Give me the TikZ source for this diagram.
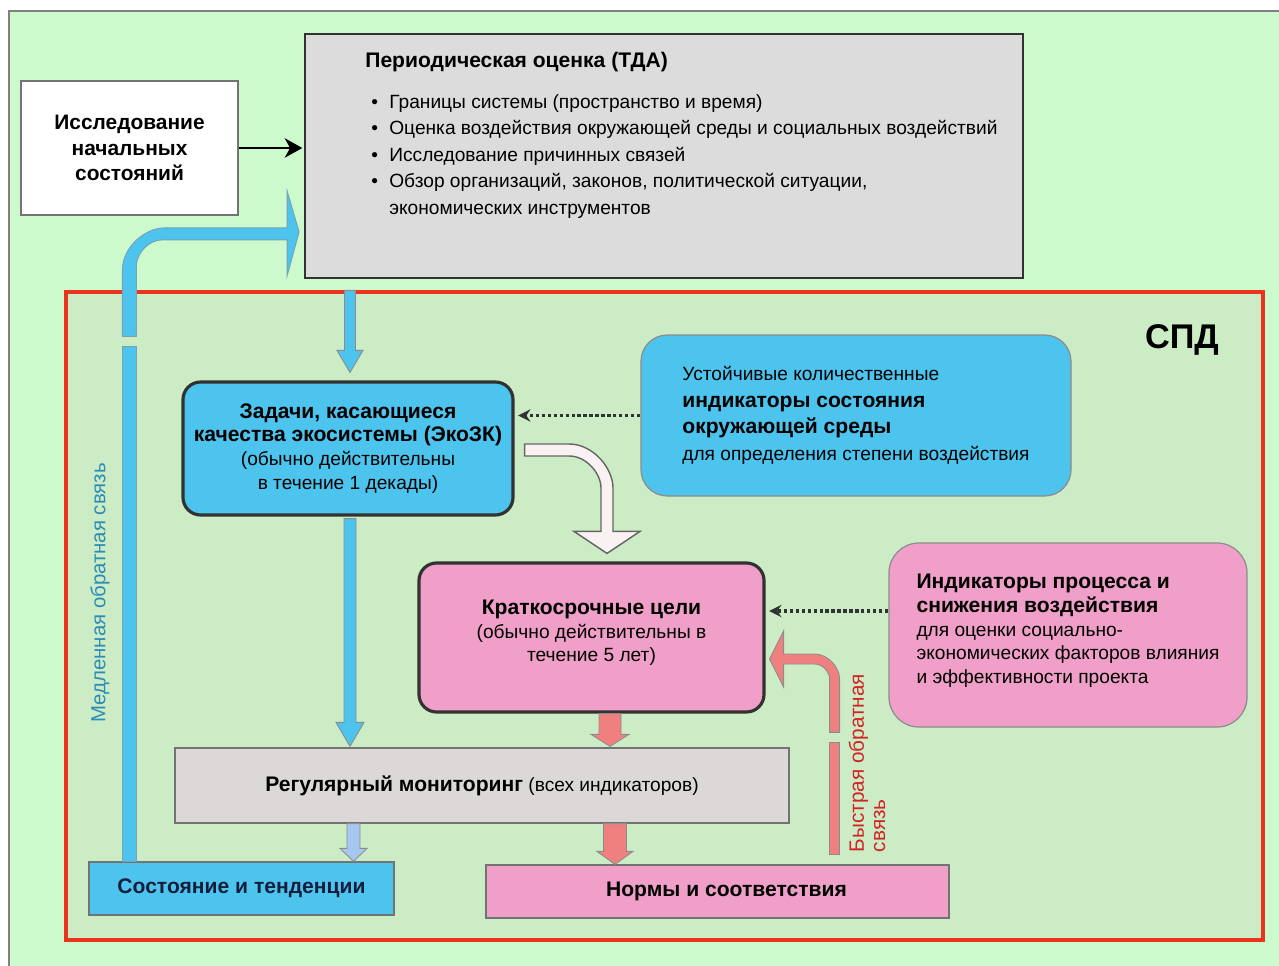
\documentclass[tikz,border=0pt]{standalone}
\usepackage{fontspec}
\setmainfont{Liberation Sans}
\usepackage{tikz}
\usetikzlibrary{arrows.meta,calc,positioning}

\newlength\pxu
\setlength\pxu{0.02cm}
\definecolor{outergreen}{RGB}{204,250,204}
\definecolor{innergreen}{RGB}{204,236,198}
\definecolor{frameorange}{RGB}{234,52,30}
\definecolor{ecoblue}{RGB}{76,196,238}
\definecolor{pinkbox}{RGB}{240,160,200}
\definecolor{fbsalmon}{RGB}{240,128,128}
\definecolor{tdagray}{RGB}{220,220,220}
\definecolor{mongray}{RGB}{220,216,216}
\definecolor{paleblue}{RGB}{166,200,240}
\definecolor{whitearrow}{RGB}{250,242,242}
\definecolor{slowblue}{RGB}{44,140,184}
\definecolor{fastred}{RGB}{210,36,36}
\definecolor{darkline}{RGB}{50,50,50}
\definecolor{navytext}{RGB}{20,30,60}

\newcommand{\fs}[2]{\fontsize{#1}{#2}\selectfont}
\newcommand{\bh}[1]{{\fontsize{12}{13}\selectfont\bfseries #1}}
\newcommand{\bul}{\makebox[18\pxu][l]{\textbullet}}
% straight block arrow pointing down: style, top, tip, shaft half, head half, head length
\newcommand{\vblock}[6]{\draw[blockarrow,#1] ($(#2)+(-#4,0)$) -- ($(#3)+(-#4,-#6)$) -- ($(#3)+(-#5,-#6)$) -- (#3) -- ($(#3)+(#5,-#6)$) -- ($(#3)+(#4,-#6)$) -- ($(#2)+(#4,0)$) -- cycle;}

\begin{document}
\begin{tikzpicture}[x=0.02cm, y=-0.02cm,
    box/.style={draw=black!55, line width=0.7pt, inner sep=0pt, align=center},
    goalbox/.style={box, draw=darkline, line width=1.8pt, rounded corners=10pt},
    indbox/.style={box, draw=black!45, rounded corners=15pt, align=left},
    blockarrow/.style={draw=black!45, line width=0.5pt},
    dotarrow/.style={darkline, line width=1.8pt, dash pattern=on 1.8pt off 1.6pt, -{Stealth[length=7pt,width=7pt]}, shorten >=2pt}]
\useasboundingbox (0,0) rectangle (1279,966);

% background and SPD frame
\draw[fill=outergreen, draw=black!50, line width=1pt] (9,11) rectangle (1300,990);
\node[draw=frameorange, line width=1.8pt, fill=innergreen, minimum width=1197\pxu, minimum height=648\pxu, inner sep=0pt] (spd) at (664.5,616) {};
\node[font=\fs{19.5}{22}\bfseries] (spdlabel) at (1182,340) {СПД};

% top row
\node[box, fill=white, minimum width=217\pxu, minimum height=134\pxu, font=\fs{11.9}{14.5}\bfseries] (start) at (129.5,148) {Исследование\\начальных\\состояний};
\node[box, draw=darkline, line width=1pt, fill=tdagray, minimum width=718\pxu, minimum height=244\pxu] (tda) at (664,156) {};
\node[anchor=west, inner sep=0pt, font=\fs{12}{14}\bfseries] (tdatitle) at (365,62) {Периодическая оценка (ТДА)};
\node[anchor=north west, align=left, inner sep=0pt, font=\fs{10.9}{15.1}] (tdalist) at (371,94) {%
  \bul Границы системы (пространство и время)\\
  \bul Оценка воздействия окружающей среды и социальных воздействий\\
  \bul Исследование причинных связей\\
  \bul Обзор организаций, законов, политической ситуации,\\
  \hspace*{18\pxu}экономических инструментов};
\draw[line width=1.6pt, -{Stealth[length=10pt,width=11pt,inset=3pt]}, shorten >=1pt] (start.east) -- (start.east -| tda.west);

% goals and indicators
\node[goalbox, fill=ecoblue, minimum width=330\pxu, minimum height=133\pxu, font=\fs{10.9}{13.6}] (eco) at (348,448.5) {\bh{Задачи, касающиеся}\\\bh{качества экосистемы (ЭкоЗК)}\\(обычно действительны\\в течение 1 декады)};
\node[indbox, fill=ecoblue, minimum width=430\pxu, minimum height=161\pxu, font=\fs{10.9}{15.1}] (ind1) at (856,415.5) {Устойчивые количественные\\\bh{индикаторы состояния}\\\bh{окружающей среды}\\для определения степени воздействия};
\node[goalbox, fill=pinkbox, minimum width=345\pxu, minimum height=149\pxu, font=\fs{10.9}{13.3}] (stg) at (591.5,637.5) {\bh{Краткосрочные цели}\\(обычно действительны в\\течение 5 лет)\\[-5.9pt]\mbox{}};
\node[indbox, rounded corners=17pt, fill=pinkbox, minimum width=358\pxu, minimum height=184\pxu, font=\fs{10.9}{13.5}] (ind2) at (1068,635) {\bh{Индикаторы процесса и}\\\bh{снижения воздействия}\\для оценки социально-\\экономических факторов влияния\\и эффективности проекта\\[-6.7pt]\mbox{}};

% monitoring and results
\node[box, fill=mongray, minimum width=614\pxu, minimum height=75\pxu, font=\fs{10.9}{12}] (mon) at (482,785.5) {\bh{Регулярный мониторинг} (всех индикаторов)};
\node[box, fill=ecoblue, minimum width=305\pxu, minimum height=53\pxu, text=navytext, font=\fs{12}{13}\bfseries] (state) at (241.5,888.5) {Состояние и тенденции};
\node[box, fill=pinkbox, minimum width=463\pxu, minimum height=53\pxu, font=\fs{12}{13}\bfseries] (norms) at (717.5,891.5) {\hspace*{18\pxu}Нормы и соответствия};

% dotted links
\draw[dotarrow] (ind1.west) -- (ind1.west -| eco.east);
\coordinate (d2) at ($(ind2.west)+(0,-24)$);
\draw[dotarrow] (d2) -- (d2 -| stg.east);

% straight block arrows
\coordinate (colA) at (350,0);
\coordinate (colB) at (610,0);
\coordinate (colC) at (615,0);
\coordinate (colD) at (353.5,0);
\coordinate (a1top) at (spd.north -| colA);
\coordinate (a1tip) at ($(eco.north -| colA)+(0,-8)$);
\coordinate (a2top) at ($(eco.south -| colA)+(0,2)$);
\coordinate (a2tip) at ($(mon.north -| colA)+(0,-1)$);
\coordinate (a3top) at (stg.south -| colB);
\coordinate (a3tip) at ($(mon.north -| colB)+(0,-1)$);
\coordinate (a4top) at (mon.south -| colC);
\coordinate (a4tip) at (norms.north -| colC);
\coordinate (a5top) at (mon.south -| colD);
\coordinate (a5tip) at (state.north -| colD);
\vblock{fill=ecoblue}{a1top}{a1tip}{5.5}{13}{22}
\vblock{fill=ecoblue}{a2top}{a2tip}{6}{14}{24}
\vblock{fill=fbsalmon}{a3top}{a3tip}{11}{19}{12}
\vblock{fill=fbsalmon}{a4top}{a4tip}{11.5}{18}{13}
\vblock{fill=paleblue}{a5top}{a5tip}{6.5}{13.5}{13}

% white bent arrow
\coordinate (whitetail) at ($(eco.east)+(10,1.5)$);
\coordinate (whitetip) at ($(stg.north)+(15.5,-8)$);
\coordinate (wk) at (whitetip |- whitetail);
\draw[blockarrow, draw=black!60, line width=0.8pt, fill=whitearrow] ($(whitetail)+(0,-6)$) -- ($(wk)+(-38,-6)$)
  .. controls ($(wk)+(-13.7,-6)$) and ($(wk)+(6,18.3)$) .. ($(wk)+(6,38)$)
  -- ($(whitetip)+(6,-22)$) -- ($(whitetip)+(33,-22)$) -- (whitetip) -- ($(whitetip)+(-33,-22)$) -- ($(whitetip)+(-6,-22)$)
  -- ($(wk)+(-6,38)$) .. controls ($(wk)+(-6,23.7)$) and ($(wk)+(-20.3,6)$) .. ($(wk)+(-38,6)$)
  -- ($(whitetail)+(0,6)$) -- cycle;

% slow feedback
\coordinate (slowbase) at ($(state.north west)+(41,0)$);
\coordinate (slowup) at ($(slowbase)+(0,-525)$);
\coordinate (slowtip) at ($(tda.south west)+(-5,-47)$);
\coordinate (sk) at (slowup |- slowtip);
\draw[blockarrow, draw=slowblue!70!black!60, fill=ecoblue] ($(slowbase)+(-7,0)$) rectangle ($(slowbase)+(7,-515)$);
\draw[blockarrow, draw=slowblue!70!black!60, fill=ecoblue] ($(slowup)+(-7,0)$) -- ($(sk)+(-7,38)$)
  .. controls ($(sk)+(-7,15)$) and ($(sk)+(16,-4)$) .. ($(sk)+(35,-4)$)
  -- ($(slowtip)+(-12,-4)$) -- ($(slowtip)+(-12,-41)$) -- (slowtip) -- ($(slowtip)+(-12,44)$) -- ($(slowtip)+(-12,8)$)
  -- ($(sk)+(33,8)$) .. controls ($(sk)+(18.6,8)$) and ($(sk)+(7,22.4)$) .. ($(sk)+(7,34)$)
  -- ($(slowup)+(7,0)$) -- cycle;
\node[rotate=90, text=slowblue, font=\fs{11.6}{13}] (slowlabel) at (100,593) {Медленная обратная связь};

% fast feedback
\coordinate (fastbase) at ($(norms.north east)+(-115,-10)$);
\coordinate (fastup) at ($(fastbase)+(0,-122)$);
\coordinate (fasttip) at ($(stg.east)+(4,21.5)$);
\coordinate (fk) at (fastup |- fasttip);
\draw[blockarrow, fill=fbsalmon] ($(fastbase)+(-5,0)$) rectangle ($(fastbase)+(5,-112)$);
\draw[blockarrow, fill=fbsalmon] ($(fastup)+(5,0)$) -- ($(fk)+(5,20)$)
  .. controls ($(fk)+(5,8.8)$) and ($(fk)+(-6.2,-5)$) .. ($(fk)+(-20,-5)$)
  -- ($(fasttip)+(14,-5)$) -- ($(fasttip)+(14,-28)$) -- (fasttip) -- ($(fasttip)+(14,28)$) -- ($(fasttip)+(14,5)$)
  -- ($(fk)+(-20,5)$) .. controls ($(fk)+(-11.7,5)$) and ($(fk)+(-5,13.3)$) .. ($(fk)+(-5,20)$)
  -- ($(fastup)+(-5,0)$) -- cycle;
\node[rotate=90, align=left, text=fastred, font=\fs{11.8}{12}] (fastlabel) at (867,763) {Быстрая обратная\\связь};
\end{tikzpicture}
\end{document}
